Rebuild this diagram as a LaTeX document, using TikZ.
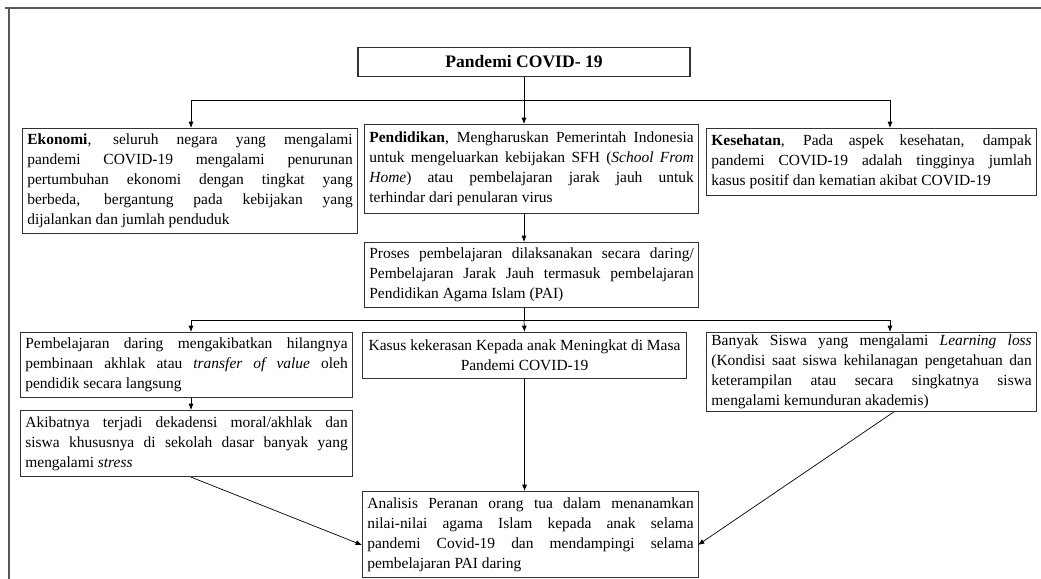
\documentclass[tikz,border=0pt]{standalone}
\usepackage{fontspec}
\setmainfont{Liberation Serif}
\usetikzlibrary{arrows.meta}
\hyphenpenalty=10000
\exhyphenpenalty=10000

\begin{document}
\begin{tikzpicture}[
  box/.style={draw=black!80, line width=0.8pt, anchor=north west, align=justify,
    inner xsep=0.12cm, inner ysep=0pt, font=\fontsize{11}{14.2}\selectfont},
  arr/.style={-{Latex[length=4.5pt,width=3.6pt]}, line width=0.5pt},
  ln/.style={line width=0.5pt},
  frame/.style={line width=1.3pt, black!65}
]
  \useasboundingbox (0,0) rectangle (26.025,-14.475);
  % page frame
  \draw[frame] (0.125,-0.2) -- (26.025,-0.2);
  \draw[frame] (0.225,-0.2) -- (0.225,-14.475);

  % Top
  \node[box, anchor=center, align=center, minimum width=8.3cm, minimum height=0.725cm,
    font=\fontsize{12.5}{14}\selectfont\bfseries] (pan) at (13.1,-1.54) {Pandemi COVID- 19};

  % Three aspects
  \node[box, text width=8.135cm, minimum height=2.625cm] (eko) at (0.55,-3.2)
    {\textbf{Ekonomi}, seluruh negara yang mengalami\linebreak
     pandemi COVID-19 mengalami penurunan\linebreak
     pertumbuhan ekonomi dengan tingkat yang\linebreak
     berbeda, bergantung pada kebijakan yang\linebreak
     dijalankan dan jumlah penduduk};
  \node[box, text width=8.11cm, minimum height=2.225cm] (pend) at (9.1,-3.1)
    {\textbf{Pendidikan}, Mengharuskan Pemerintah Indonesia\linebreak
     untuk mengeluarkan kebijakan SFH (\textit{School From\linebreak
     Home}) atau pembelajaran jarak jauh untuk\linebreak
     terhindar dari penularan virus};
  \node[box, text width=8.01cm, minimum height=1.675cm] (kes) at (17.65,-3.2)
    {\textbf{Kesehatan}, Pada aspek kesehatan, dampak\linebreak
     pandemi COVID-19 adalah tingginya jumlah\linebreak
     kasus positif dan kematian akibat COVID-19};

  % Proses
  \node[box, text width=8.11cm, minimum height=1.625cm] (pro) at (9.1,-6.05)
    {Proses pembelajaran dilaksanakan secara daring/\linebreak
     Pembelajaran Jarak Jauh termasuk pembelajaran\linebreak
     Pendidikan Agama Islam (PAI)};

  % Effects
  \node[box, text width=8.06cm, minimum height=1.625cm] (pemb) at (0.5,-8.3)
    {Pembelajaran daring mengakibatkan hilangnya\linebreak
     pembinaan akhlak atau \textit{transfer of value} oleh\linebreak
     pendidik secara langsung};
  \node[box, text width=8.06cm, minimum height=1.65cm] (akib) at (0.5,-10.25)
    {Akibatnya terjadi dekadensi moral/akhlak dan\linebreak
     siswa khususnya di sekolah dasar banyak yang\linebreak
     mengalami \textit{stress}};
  \node[box, align=center, minimum width=8.1cm, minimum height=1.15cm] (kas) at (9.05,-8.3)
    {Kasus kekerasan Kepada anak Meningkat di Masa\\ Pandemi COVID-19};
  \node[box, text width=8.01cm, minimum height=1.975cm] (ban) at (17.65,-8.3)
    {Banyak Siswa yang mengalami \textit{Learning loss}\linebreak
     (Kondisi saat siswa kehilanagan pengetahuan dan\linebreak
     keterampilan atau secara singkatnya siswa\linebreak
     mengalami kemunduran akademis)};

  % Analysis
  \node[box, text width=8.16cm, minimum height=2.15cm] (ana) at (9.05,-12.275)
    {Analisis Peranan orang tua dalam menanamkan\linebreak
     nilai-nilai agama Islam kepada anak selama\linebreak
     pandemi Covid-19 dan mendampingi selama\linebreak
     pembelajaran PAI daring};

  % First split
  \coordinate (s1) at (13.1,-2.5);
  \coordinate (l1) at (4.775,-2.5);
  \coordinate (r1) at (22.25,-2.5);
  \draw[ln] (pan) -- (s1);
  \draw[ln] (l1) -- (r1);
  \draw[arr] (s1) -- (s1 |- pend.north);
  \draw[arr] (l1) -- (l1 |- eko.north);
  \draw[arr] (r1) -- (r1 |- kes.north);
  \draw[arr] (s1 |- pend.south) -- (s1 |- pro.north);

  % Second split
  \coordinate (s2) at (13.1,-8.0);
  \coordinate (l2) at (4.775,-8.0);
  \coordinate (r2) at (22.25,-8.0);
  \draw[ln] (s1 |- pro.south) -- (s2);
  \draw[ln] (l2) -- (r2);
  \draw[arr] (l2) -- (l2 |- pemb.north);
  \draw[arr] (s2) -- (kas.north);
  \draw[arr] (r2) -- (r2 |- ban.north);
  \draw[arr] (l2 |- pemb.south) -- (l2 |- akib.north);

  % Into the analysis
  \coordinate (aw) at (9.05,-13.625);
  \coordinate (ae) at (17.45,-13.625);
  \draw[arr] (kas) -- (kas |- ana.north);
  \draw[arr] (l2 |- akib.south) -- (aw);
  \draw[arr] ([xshift=0.55cm]ban.south) -- (ae);
\end{tikzpicture}
\end{document}
